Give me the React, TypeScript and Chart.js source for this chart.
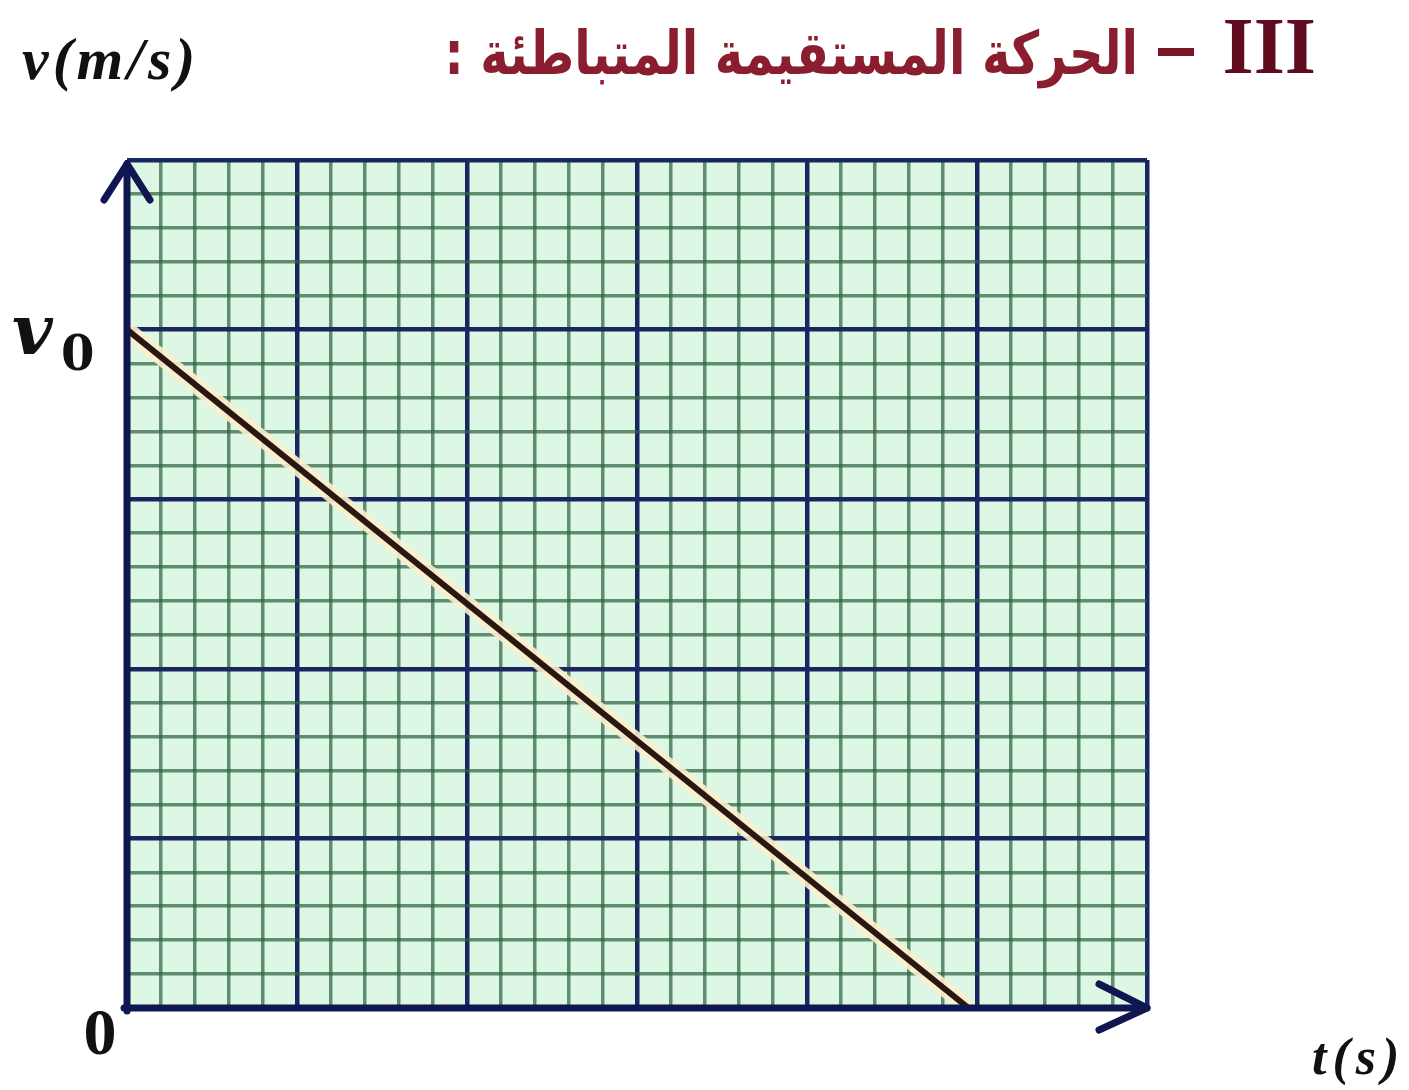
import { useEffect, useRef } from "react";
import { Chart, registerables } from "chart.js";

Chart.register(...registerables);

// Velocity–time data for uniformly decelerated straight-line motion
const timeValues = [0, 4.95];
const speedValues = [4, 0];

// Axis extents and grid spacing (graph-paper style: 5 minor squares per unit)
const tMin = 0;
const tMax = 6;
const vMin = 0;
const vMax = 5;
const gridStep = 0.2;

// Labelled values on the axes
const v0Value = 4;
const originValue = 0;

// Texts
const titleNumber = "III";
const titleArabic = "الحركة المستقيمة المتباطئة :";
const yAxisLabel = "v(m/s)";
const xAxisLabel = "t(s)";

const majorColor = "#1b2660";
const minorColor = "rgba(48, 98, 68, 0.72)";
const axisColor = "#0f1650";
const paperColor = "#dcf7e3";

const isMajor = (v: number | undefined) =>
  v !== undefined && Math.abs(v - Math.round(v)) < 1e-6;

const paperPlugin = {
  id: "paper",
  beforeDraw(chart: Chart) {
    const { ctx, chartArea } = chart;
    ctx.save();
    ctx.fillStyle = paperColor;
    ctx.fillRect(
      chartArea.left,
      chartArea.top,
      chartArea.right - chartArea.left,
      chartArea.bottom - chartArea.top
    );
    ctx.restore();
  },
};

const axesPlugin = {
  id: "arrowAxes",
  afterDatasetsDraw(chart: Chart) {
    const { ctx, chartArea } = chart;
    const xs = chart.scales.x;
    const ys = chart.scales.y;
    const x0 = xs.getPixelForValue(originValue);
    const y0 = ys.getPixelForValue(originValue);
    ctx.save();
    ctx.strokeStyle = axisColor;
    ctx.fillStyle = axisColor;
    ctx.lineWidth = 7;
    ctx.lineCap = "round";
    ctx.lineJoin = "round";

    // vertical axis with arrow
    const yTip = chartArea.top + 4;
    ctx.beginPath();
    ctx.moveTo(x0, y0 + 3);
    ctx.lineTo(x0, yTip);
    ctx.stroke();
    ctx.beginPath();
    ctx.moveTo(x0 - 23, yTip + 36);
    ctx.lineTo(x0, yTip);
    ctx.lineTo(x0 + 23, yTip + 36);
    ctx.stroke();

    // horizontal axis with arrow
    const xTip = chartArea.right;
    ctx.beginPath();
    ctx.moveTo(x0 - 3, y0);
    ctx.lineTo(xTip, y0);
    ctx.stroke();
    ctx.beginPath();
    ctx.moveTo(xTip - 48, y0 - 24);
    ctx.lineTo(xTip, y0);
    ctx.lineTo(xTip - 48, y0 + 22);
    ctx.stroke();

    // axis value labels
    const v0y = ys.getPixelForValue(v0Value);
    ctx.fillStyle = "#111";
    ctx.textAlign = "left";
    ctx.textBaseline = "alphabetic";
    ctx.font = "italic bold 70px 'DejaVu Serif'";
    ctx.fillText("v", 12, v0y + 24);
    ctx.font = "bold 48px 'DejaVu Serif'";
    ctx.fillText("0", 61, v0y + 40);

    ctx.textAlign = "center";
    ctx.font = "bold 66px 'Liberation Serif'";
    ctx.fillText(String(originValue), x0 - 27, y0 + 46);

    // axis titles
    ctx.textAlign = "left";
    ctx.font = "italic bold 60px 'Liberation Serif'";
    (ctx as any).letterSpacing = "4px";
    ctx.fillText(yAxisLabel, 22, 79);
    ctx.font = "italic bold 52px 'Liberation Serif'";
    (ctx as any).letterSpacing = "6px";
    ctx.fillText(xAxisLabel, 1312, 1074);
    (ctx as any).letterSpacing = "0px";

    // section title
    ctx.fillStyle = "#5e0c1e";
    ctx.textAlign = "right";
    ctx.font = "bold 80px 'Liberation Serif'";
    ctx.fillText(titleNumber, 1316, 73);
    ctx.fillStyle = "#7a1626";
    ctx.fillRect(1158, 48, 36, 8);
    (ctx as any).direction = "rtl";
    ctx.fillStyle = "#8a1e2e";
    const squeeze = 0.8;
    let size = 50;
    ctx.font = `bold ${size}px 'DejaVu Sans'`;
    const w = ctx.measureText(titleArabic).width;
    size = Math.round((size * 695) / (w * squeeze));
    ctx.font = `bold ${size}px 'DejaVu Sans'`;
    ctx.translate(1138, 74);
    ctx.scale(squeeze, 1);
    ctx.fillText(titleArabic, 0, 0);
    ctx.restore();
  },
};

const gridOptions = {
  drawTicks: false,
  color: (c: any) => (isMajor(c.tick?.value) ? majorColor : minorColor),
  lineWidth: (c: any) => (isMajor(c.tick?.value) ? 4.5 : 3.5),
};

export default function App() {
  const canvasRef = useRef<HTMLCanvasElement | null>(null);

  useEffect(() => {
    if (!canvasRef.current) return;
    const points = timeValues.map((t, i) => ({ x: t, y: speedValues[i] }));
    const chart = new Chart(canvasRef.current, {
      type: "line",
      data: {
        datasets: [
          {
            data: points,
            borderColor: "#2a1810",
            borderWidth: 6,
            pointRadius: 0,
            borderCapStyle: "butt",
            tension: 0,
          },
          {
            data: points,
            borderColor: "rgba(252, 238, 205, 0.9)",
            borderWidth: 16,
            pointRadius: 0,
            borderCapStyle: "butt",
            tension: 0,
          },
        ],
      },
      options: {
        responsive: false,
        animation: false,
        devicePixelRatio: 1,
        layout: { padding: { left: 127, right: 262, top: 160, bottom: 82 } },
        plugins: {
          legend: { display: false },
          tooltip: { enabled: false },
        },
        scales: {
          x: {
            type: "linear",
            min: tMin,
            max: tMax,
            ticks: { display: false, stepSize: gridStep, maxTicksLimit: 100 },
            grid: gridOptions,
            border: { display: false },
          },
          y: {
            type: "linear",
            min: vMin,
            max: vMax,
            ticks: { display: false, stepSize: gridStep, maxTicksLimit: 100 },
            grid: gridOptions,
            border: { display: false },
          },
        },
      },
      plugins: [paperPlugin, axesPlugin],
    });
    return () => chart.destroy();
  }, []);

  return (
    <div
      style={{
        position: "absolute",
        left: 0,
        top: 0,
        width: 1409,
        height: 1090,
        background: "#ffffff",
      }}
    >
      <canvas ref={canvasRef} width={1409} height={1090} />
    </div>
  );
}
